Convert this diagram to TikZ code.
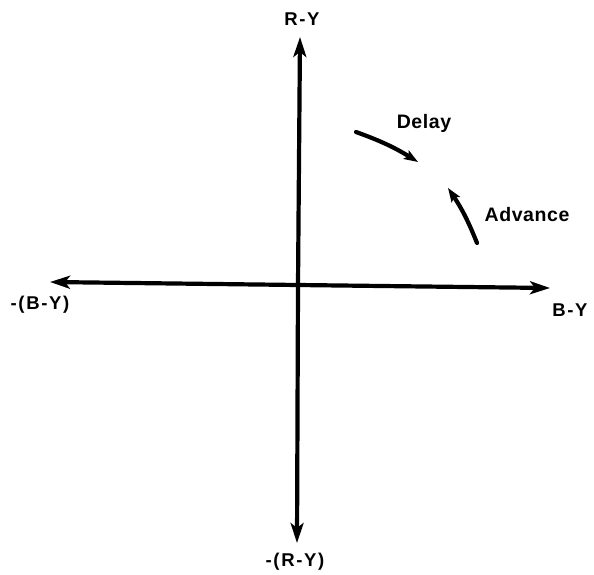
\documentclass[tikz,border=0pt]{standalone}
\usepackage{fontspec}
\setmainfont{Liberation Sans}
\usetikzlibrary{arrows.meta,positioning}

\begin{document}
\begin{tikzpicture}[
  x=1pt,y=-1pt,
  axis/.style={line width=4.2pt,-{Stealth[length=20pt,width=13pt,inset=5pt]}},
  phase/.style={line width=4.2pt,line cap=round,-{Stealth[length=14pt,width=10pt,inset=3pt]}},
  lbl/.style={font=\fontsize{18.5}{20}\selectfont\bfseries\addfontfeatures{LetterSpace=9},inner sep=0pt}
]
  \useasboundingbox (0,0) rectangle (594,575);

  % axes
  \coordinate (origin) at (298,285);
  \coordinate (ry) at (300,37);
  \coordinate (mry) at (297,543);
  \coordinate (by) at (550,288);
  \coordinate (mby) at (50,282);
  \draw[axis] (origin) -- (ry);
  \draw[axis] (origin) -- (mry);
  \draw[axis] (origin) -- (by);
  \draw[axis] (origin) -- (mby);

  \node[lbl] (rylabel) at (302,19) {R-Y};
  \node[lbl] (mrylabel) at (295,562) {-(R-Y)};
  \node[lbl] (bylabel) at (570,310) {B-Y};
  \node[lbl] (mbylabel) at (40,305) {-(B-Y)};

  % phase shifts
  \coordinate (dstart) at (356,132);
  \coordinate (dend) at (418,162);
  \coordinate (astart) at (477,243);
  \coordinate (aend) at (448,188);
  \draw[phase] (dstart) to[bend left=6] (dend);
  \draw[phase] (astart) to[bend right=6] (aend);

  \node[lbl,font=\fontsize{19.5}{21}\selectfont\bfseries\addfontfeatures{LetterSpace=3}] (delay) at (424,123) {Delay};
  \node[lbl,font=\fontsize{19.5}{21}\selectfont\bfseries\addfontfeatures{LetterSpace=3}] (advance) at (527,215) {Advance};
\end{tikzpicture}
\end{document}
